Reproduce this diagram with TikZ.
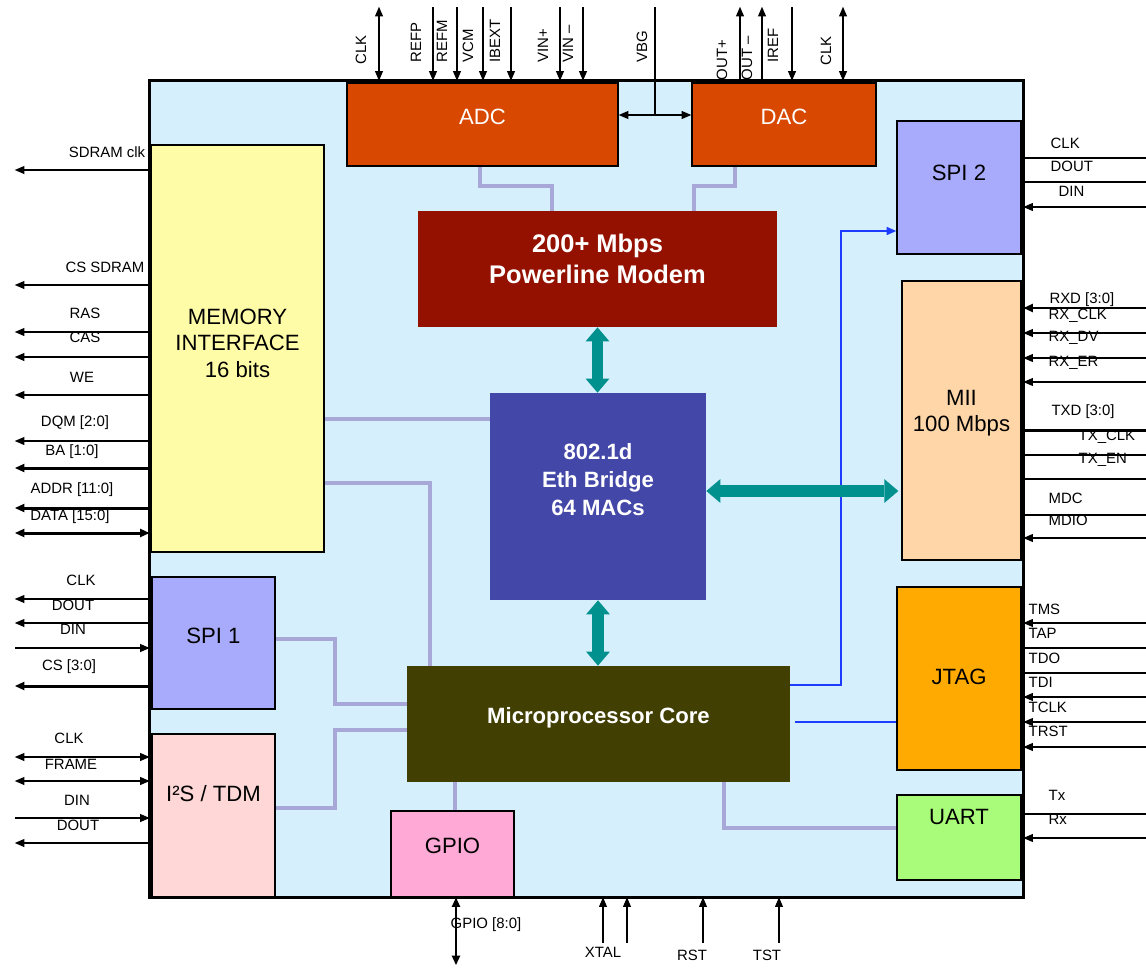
\documentclass[tikz,border=0pt]{standalone}
\usepackage{fontspec}
\setmainfont{Liberation Sans}
\usetikzlibrary{arrows.meta,calc}
\definecolor{chipc}{HTML}{D5EFFD}
\definecolor{adcc}{HTML}{D84800}
\definecolor{modc}{HTML}{941100}
\definecolor{memc}{HTML}{FFFCA8}
\definecolor{ethc}{HTML}{4347A8}
\definecolor{cpuc}{HTML}{423F03}
\definecolor{spic}{HTML}{A8ABFB}
\definecolor{i2sc}{HTML}{FFD7D7}
\definecolor{gpioc}{HTML}{FFA9D6}
\definecolor{miic}{HTML}{FFD6A8}
\definecolor{jtagc}{HTML}{FFAA00}
\definecolor{uartc}{HTML}{A8FC7A}
\definecolor{linkc}{HTML}{A8A8D8}
\definecolor{tealc}{HTML}{00918F}
\definecolor{ctlc}{HTML}{1E3CFF}

\begin{document}
\begin{tikzpicture}[>={Triangle[length=5.5pt,width=4.5pt]},x=0.02cm,y=-0.02cm,
    wh/.style 2 args={minimum width=#1*0.2mm,minimum height=#2*0.2mm},
    blk/.style={draw=black,line width=0.8pt,inner sep=0pt,align=center,font=\fontsize{12.6}{15}\selectfont},
    core/.style={inner sep=0pt,text=white,align=center,font=\bfseries\fontsize{12.6}{15.9}\selectfont},
    lift/.style={text depth=#1},
    link/.style={draw=linkc,line width=2.2pt},
    ctl/.style={draw=ctlc,line width=1pt},
    fat/.style={draw=tealc,line width=6.3pt,{Triangle[length=8pt,width=13.6pt,line width=0pt]}-{Triangle[length=8pt,width=13.6pt,line width=0pt]}},
    wire/.style={line width=0.75pt},
    busw/.style={line width=1.7pt},
    outp/.style={->},inp/.style={<-},bid/.style={<->},nop/.style={},
    plbl/.style={inner sep=0pt,font=\fontsize{8.5}{10}\selectfont}]
  \useasboundingbox (0,0) rectangle (1146,967);
  % puce
  \node[inner sep=0pt,fill=chipc,wh={873}{816}] (chip) at (586.5,489) {};
  % blocs
  \node[blk,fill=adcc,text=white,wh={271}{83},lift=9pt] (adc) at (482.5,124.5) {ADC};
  \node[blk,fill=adcc,text=white,wh={184}{83},lift=9pt] (dac) at (784,124.5) {DAC};
  \node[core,fill=modc,wh={359}{116},lift=12pt,font=\bfseries\fontsize{14.5}{17.6}\selectfont] (modem) at (597.5,269) {200+ Mbps\\Powerline Modem};
  \node[blk,fill=memc,wh={173}{407},lift=6pt] (mem) at (237.5,348.5) {MEMORY\\INTERFACE\\16 bits};
  \node[core,fill=ethc,wh={216}{207},lift=19pt] (eth) at (598,496.5) {802.1d\\Eth Bridge\\64 MACs};
  \node[core,fill=cpuc,wh={383}{116},lift=10pt] (cpu) at (598.5,724) {Microprocessor Core};
  \node[blk,fill=spic,wh={123}{132},lift=8pt] (spia) at (213.5,643) {SPI 1};
  \node[blk,fill=i2sc,wh={123}{163},lift=25pt] (i2s) at (213.5,815.5) {I²S / TDM};
  \node[blk,fill=gpioc,wh={123}{86},lift=9pt] (gpio) at (452.5,854) {GPIO};
  \node[blk,fill=spic,wh={124}{133},lift=17pt] (spib) at (959,187.5) {SPI 2};
  \node[blk,fill=miic,wh={119}{279},lift=11pt] (mii) at (961.5,420.5) {MII\\100 Mbps};
  \node[blk,fill=jtagc,wh={124}{183},lift=2pt] (jtag) at (959,678.5) {JTAG};
  \node[blk,fill=uartc,wh={124}{85},lift=24pt] (uart) at (959,837.5) {UART};
  % bus internes
  \draw[link] (480,0 |- adc.south) |- (552,186) -- (552,0 |- modem.north);
  \draw[link] (735,0 |- dac.south) |- (694,186) -- (694,0 |- modem.north);
  \draw[link] (mem.east |- 0,419) -- (eth.west |- 0,419);
  \draw[link] (mem.east |- 0,483) -| (430,0 |- cpu.north);
  \draw[link] (spia.east |- 0,639) -| (335,704) -- (cpu.west |- 0,704);
  \draw[link] (i2s.east |- 0,808) -| (335,730) -- (cpu.west |- 0,730);
  \draw[link] (455,0 |- cpu.south) -- (455,0 |- gpio.north);
  \draw[link] (724,0 |- cpu.south) |- (uart.west |- 0,828);
  % controle
  \draw[ctl,->] (cpu.east |- 0,685) -| (841,231) -- (spib.west |- 0,231);
  \draw[ctl,shorten <=2.8pt] (cpu.east |- 0,722) -- (jtag.west |- 0,722);
  % fleches
  \draw[fat] (modem.south) -- (modem.south |- eth.north);
  \draw[fat] (eth.south) -- (eth.south |- cpu.north);
  \draw[fat] (eth.east |- 0,491) -- ([xshift=-1.7pt]mii.west |- 0,491);
  \draw[wire,<->] (adc.east |- 0,115) -- (dac.west |- 0,115);
  % bord
  \draw[line width=1.7pt] (chip.north west) rectangle (chip.south east);
  % broches haut
  \foreach \x/\lx/\ly/\txt/\tp [count=\i] in {379/361/65/CLK/bid,433/416/63/REFP/inp,
      457/442/63/REFM/inp,483/468/63/VCM/inp,511/495/63/IBEXT/inp,560/543/63/VIN+/inp,
      583/568/63/VIN –/inp,740/722/81/OUT+/outp,762/747/81/OUT –/outp,792/773/63/IREF/inp,
      843/826/66/CLK/bid}
    \draw[wire,\tp] (\x,0 |- chip.north) -- ++(0,-74) node[plbl,rotate=90,anchor=west] (ht\i) at (\lx,\ly) {\txt};
  \draw[wire] (655,7) -- (655,115) node[plbl,rotate=90,anchor=west] (vbg) at (642,63) {VBG};
  % broches gauche
  \foreach \y/\lx/\ly/\txt/\tp/\w [count=\i] in {170/107/152/SDRAM clk/outp/wire,
      285/105/267/CS SDRAM/outp/wire,332/85/313/RAS/outp/wire,357/85/337/CAS/outp/wire,
      395/82/377/WE/outp/wire,441/75/423/DQM [2:0]/outp/wire,468/72/452/BA [1:0]/outp/busw,
      508/72/490/ADDR [11:0]/outp/busw,533/70/517/DATA [15:0]/bid/busw,
      599/81/580/CLK/outp/wire,623/73/605/DOUT/outp/wire,648/73/629/DIN/inp/wire,
      686/69/667/CS [3:0]/outp/busw,757/69/738/CLK/bid/wire,781/71/764/FRAME/bid/wire,
      818/77/800/DIN/inp/wire,843/78/825/DOUT/outp/wire}
    \draw[\w,\tp] (chip.west |- 0,\y) -- ++(-135,0) node[plbl] (gl\i) at (\lx,\ly) {\txt};
  % broches droite
  \foreach \y/\lx/\ly/\txt/\tp/\w [count=\i] in {158/1050/143/CLK/nop/wire,
      182/1050/166/DOUT/nop/wire,207/1058/191/DIN/inp/wire,308/1048/300/RXD [3:0]/inp/busw,
      333/1048/316/RX\_CLK/inp/wire,358/1048/338/RX\_DV/inp/wire,382/1048/363/RX\_ER/inp/wire,
      430/1050/412/TXD [3:0]/nop/busw,455/1078/437/TX\_CLK/nop/wire,479/1078/460/TX\_EN/nop/wire,
      515/1048/498/MDC/nop/wire,538/1048/520/MDIO/inp/wire,623/1028/609/TMS/inp/wire,
      648/1028/633/TAP/nop/wire,673/1028/658/TDO/nop/wire,697/1028/682/TDI/inp/wire,
      722/1028/707/TCLK/inp/wire,747/1028/731/TRST/inp/wire,814/1048/795/Tx/nop/wire,
      838/1048/819/Rx/inp/wire}
    \draw[\w,\tp] (chip.east |- 0,\y) -- ++(123,0) node[plbl,anchor=west] (dr\i) at (\lx,\ly) {\txt};
  % broches bas
  \draw[busw,bid] (456,0 |- chip.south) -- ++(0,68) node[plbl] (gpl) at (486,925) {GPIO [8:0]};
  \foreach \x in {603,627,703,779}
    \draw[wire,inp] (\x,0 |- chip.south) -- ++(0,46);
  \node[plbl] (xtal) at (603,952) {XTAL};
  \node[plbl] (rst) at (692,955) {RST};
  \node[plbl] (tst) at (767,955) {TST};
\end{tikzpicture}
\end{document}
